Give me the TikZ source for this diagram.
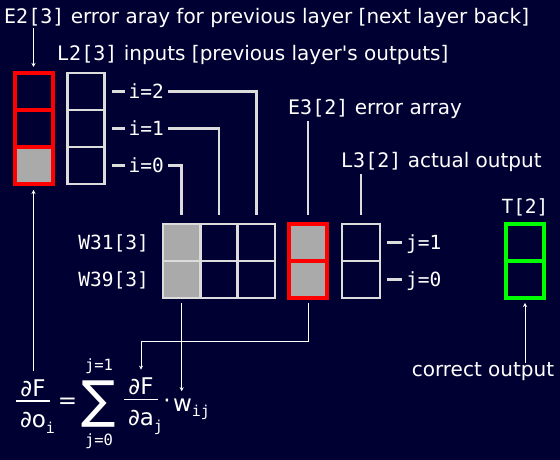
\documentclass[tikz,border=0pt]{standalone}
\usepackage{fontspec}
\setmainfont{DejaVu Sans}
\newfontfamily\codefont{DejaVu Sans Mono}
\usetikzlibrary{arrows.meta, positioning}
\definecolor{bgnavy}{RGB}{0,0,51}
\definecolor{wiregray}{RGB}{220,220,220}
\definecolor{cellfill}{RGB}{170,170,170}
\definecolor{errred}{RGB}{255,0,0}
\definecolor{okgreen}{RGB}{0,255,0}

% subscript set in mono, lowered, taking no width
\newcommand{\idx}[2][6pt]{\rlap{\raisebox{-#1}{\codefont\fontsize{15}{18}\selectfont #2}}}
% hand-made fraction: numerator, bar, denominator
\newcommand{\partfrac}[2]{#1\\[-21.3pt]\rule{34pt}{1.4pt}\\[-1.7pt]#2}

\begin{document}
\begin{tikzpicture}[
    x=1pt, y=1pt,
    txt/.style={text=white, inner sep=0pt, font=\fontsize{20}{24}\selectfont},
    idx/.style={text=white, inner xsep=4pt, inner ysep=0pt, text height=14.2pt, text depth=0pt, font=\codefont\fontsize{19.5}{23}\selectfont},
    lim/.style={text=white, inner sep=0pt, font=\codefont\fontsize{15.5}{18}\selectfont},
    cell/.style={rectangle, draw=wiregray, line width=2.5pt, minimum width=37pt, minimum height=37pt, inner sep=0pt, outer sep=0pt},
    wcell/.style={cell, minimum width=37.33pt},
    errcell/.style={cell, draw=errred, line width=4pt, minimum width=38pt},
    tcell/.style={cell, draw=okgreen, line width=4pt, minimum width=38pt},
    full/.style={fill=cellfill},
    wire/.style={draw=wiregray, line width=2.5pt},
    arrow/.style={-{Stealth[length=4pt, width=4pt]}, white, line width=0.8pt},
    frac/.style={text=white, inner sep=0pt, align=center, font=\fontsize{23}{27}\selectfont}
]

% background
\path[use as bounding box, fill=bgnavy] (0,0) rectangle (560,460);

% E2 error array
\node[errcell] (e2a) at (33.5,368.5) {};
\node[errcell, below=0pt of e2a] (e2b) {};
\node[errcell, full, below=0pt of e2b] (e2c) {};

% L2 inputs
\node[cell, right=15pt of e2a] (l2a) {};
\node[cell, below=0pt of l2a] (l2b) {};
\node[cell, below=0pt of l2b] (l2c) {};
\node[idx, right=20pt of l2a] (i2) {i=2};
\node[idx, right=20pt of l2b] (i1) {i=1};
\node[idx, right=20pt of l2c] (i0) {i=0};

% weights
\node[wcell, full] (wa0) at (181.67,217.5) {};
\node[wcell, right=0pt of wa0] (wa1) {};
\node[wcell, right=0pt of wa1] (wa2) {};
\node[wcell, full, below=0pt of wa0] (wb0) {};
\node[wcell, below=0pt of wa1] (wb1) {};
\node[wcell, below=0pt of wa2] (wb2) {};
\node[idx, left=10pt of wa0] (w31) {W31[3]};
\node[idx, left=10pt of wb0] (w39) {W39[3]};

% E3 error array
\node[errcell, full, right=14pt of wa2] (e3a) {};
\node[errcell, full, below=0pt of e3a] (e3b) {};

% L3 outputs
\node[cell, minimum width=38pt, right=15pt of e3a] (l3a) {};
\node[cell, minimum width=38pt, below=0pt of l3a] (l3b) {};
\node[idx, right=22pt of l3a] (j1) {j=1};
\node[idx, right=22pt of l3b] (j0) {j=0};

% targets
\node[tcell, right=126pt of l3a] (ta) {};
\node[tcell, below=0pt of ta] (tb) {};

% labels
\node[txt, anchor=base west] (title) at (4,436) {{\codefont E2[3]} error aray for previous layer [next layer back]};
\node[txt, anchor=base west] (l2lab) at (57,399) {{\codefont L2[3]} inputs [previous layer\textquotesingle s outputs]};
\node[txt, anchor=base west] (e3lab) at (288,345) {{\codefont E3[2]} error array};
\node[txt, anchor=base west] (l3lab) at (341,292) {{\codefont L3[2]} actual output};
\node[txt, font=\codefont\fontsize{19.5}{23}\selectfont, above=8pt of ta] (tlab) {T[2]};
\node[txt, anchor=base] (correct) at (483,83) {correct output};

% formula
\node[frac] (dfdo) at (33,53.7) {\partfrac{∂F}{∂o\idx{i}}};
\node[txt, font=\fontsize{23}{27}\selectfont] (eq) at (67.5,57) {=};
\node[txt, font=\fontsize{51}{53}\selectfont] (sum) at (99,55.5) {∑};
\node[lim, above=7pt of sum] (jtop) {j=1};
\node[lim, below=6pt of sum] (jbot) {j=0};
\node[frac] (dfda) at (141,53.7) {\partfrac{∂F}{∂a\idx{j}}};
\node[txt, font=\fontsize{23}{27}\selectfont, anchor=base] (cdot) at (167,51) {·};
\node[txt, font=\fontsize{23}{27}\selectfont, anchor=base] (wij) at (182.5,48) {w\idx[4.5pt]{ij}};

% wires
\draw[wire] ([xshift=7pt]l2a.east) -- (i2.west);
\draw[wire] ([xshift=7pt]l2b.east) -- (i1.west);
\draw[wire] ([xshift=7pt]l2c.east) -- (i0.west);
\draw[wire, shorten >=9pt] (i2.east) -| (wa2.north);
\draw[wire, shorten >=9pt] (i1.east) -| (wa1.north);
\draw[wire, shorten >=9pt] (i0.east) -| (wa0.north);
\draw[wire, shorten <=2pt, shorten >=9pt] (e3lab.south -| e3a) -- (e3a.north);
\draw[wire, shorten <=2pt, shorten >=9pt] (l3lab.south -| l3a) -- (l3a.north);
\draw[wire] ([xshift=7pt]l3a.east) -- (j1.west);
\draw[wire] ([xshift=7pt]l3b.east) -- (j0.west);

% arrows
\draw[arrow, shorten >=6pt] (title.south -| e2a) -- (e2a.north);
\draw[arrow, shorten <=8pt, shorten >=6pt] (dfdo.north -| e2c) -- (e2c.south);
\draw[arrow, shorten <=5pt, shorten >=8pt] (wb0.south) -- (wb0.south |- wij.north);
\draw[arrow, shorten <=5pt, shorten >=8pt] (e3b.south) -- ++(0,-43) -| (dfda.north);
\draw[arrow, shorten >=5pt] (correct.north -| tb) -- (tb.south);

\end{tikzpicture}
\end{document}
